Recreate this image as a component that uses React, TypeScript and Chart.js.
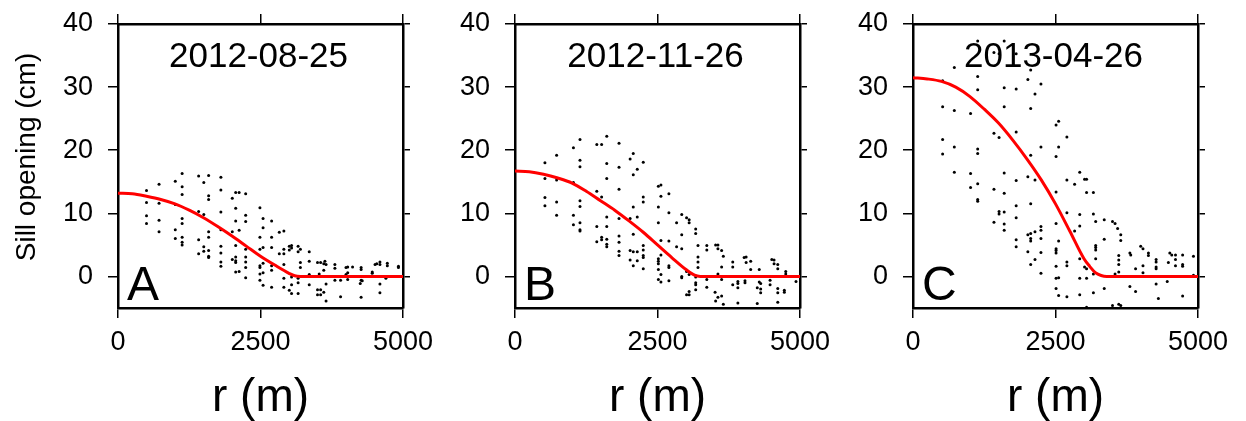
import { useEffect, useRef } from "react";
import { Chart, registerables } from "chart.js";

Chart.register(...registerables);

type Pt = [number, number];

const FONT = "'Liberation Sans', Arial, Helvetica, sans-serif";

const xTicks = [0, 2500, 5000];
const yTicks = [0, 10, 20, 30, 40];
const xRange = [0, 5000];
const yRange = [-5, 40];
const panelTitles = ["2012-08-25", "2012-11-26", "2013-04-26"];
const panelLetters = ["A", "B", "C"];
const yAxisTitle = "Sill opening (cm)";
const xAxisTitle = "r (m)";

// Fitted model curves (r in m, opening in cm)
const curveA_r = [0, 250, 500, 750, 1000, 1250, 1500, 1750, 2000, 2250, 2500, 2750, 3000, 3100, 3200, 5000];
const curveA_v = [13.2, 13.1, 12.7, 12.2, 11.5, 10.5, 9.3, 7.9, 6.4, 4.8, 3.2, 1.8, 0.5, 0.1, 0, 0];
const curveB_r = [0, 250, 500, 750, 1000, 1250, 1500, 1750, 2000, 2250, 2500, 2750, 3000, 3150, 3250, 5000];
const curveB_v = [16.7, 16.6, 16.2, 15.6, 14.8, 13.5, 12.0, 10.5, 8.8, 7.0, 5.0, 3.0, 1.1, 0.2, 0, 0];
const curveC_r = [0, 250, 500, 750, 1000, 1250, 1500, 1750, 2000, 2250, 2500, 2750, 3000, 3100, 3200, 3300, 3400, 5000];
const curveC_v = [31.5, 31.3, 30.9, 30.0, 28.5, 26.5, 24.3, 21.6, 18.6, 15.3, 11.5, 7.2, 2.8, 1.6, 0.6, 0.15, 0, 0];

// Observed openings [r, value]
const dotsA: Pt[] = [
  [500, 13.6], [500, 11.7], [500, 9.6], [500, 8.4],
  [720, 14.6], [720, 11.6], [720, 8.9], [720, 7.1],
  [1005, 15.1], [1005, 11.4], [1005, 7.4], [1005, 6.0],
  [1125, 16.3], [1125, 14.2], [1125, 13.0], [1125, 9.2], [1125, 8.4], [1125, 6.2], [1125, 5.4], [1125, 5.0],
  [1415, 15.9], [1415, 10.3], [1415, 5.8], [1415, 3.6],
  [1505, 14.9], [1505, 9.8], [1505, 4.7], [1505, 4.0],
  [1590, 16.0], [1590, 12.8], [1590, 12.2], [1590, 7.1], [1590, 6.2], [1590, 4.1], [1590, 3.2], [1590, 3.0],
  [1805, 15.7], [1805, 13.7], [1805, 10.2], [1805, 7.4], [1805, 4.8], [1805, 3.7], [1805, 2.3], [1805, 1.6],
  [2005, 12.4], [2005, 7.1], [2005, 2.7],
  [2065, 13.3], [2065, 10.8], [2065, 8.8], [2065, 4.9], [2065, 3.1], [2065, 2.5], [2065, 2.2], [2065, 0.7],
  [2125, 13.3], [2125, 7.3], [2125, 0.8],
  [2240, 13.1], [2240, 9.7], [2240, 8.7], [2240, 4.3], [2240, 3.1], [2240, 2.3], [2240, 1.4], [2240, -0.2],
  [2490, 10.9], [2490, 6.2], [2490, 4.3], [2490, 1.7], [2490, 1.4], [2490, 0.4], [2490, -0.6],
  [2545, 9.2], [2545, 7.7], [2545, 4.6], [2545, 2.1], [2545, 0.6], [2545, -1.4],
  [2695, 8.8], [2695, 6.2], [2695, 4.6], [2695, 1.7], [2695, 1.0], [2695, -1.7],
  [2830, 7.0], [2830, 3.6],
  [2910, 7.2], [2910, 4.3], [2910, 3.6], [2910, 1.9], [2910, -0.3], [2910, -1.7],
  [3005, 4.8], [3005, 4.2], [3005, -2.2],
  [3045, 4.9], [3045, 4.5], [3045, -0.1], [3045, -1.3], [3045, -2.7],
  [3160, 4.8], [3160, 3.9], [3160, -0.3], [3160, -1.0], [3160, -2.7],
  [3200, 4.3], [3200, 2.2], [3200, 1.4],
  [3355, 3.9], [3355, 2.4], [3355, 0.3], [3355, -1.3],
  [3500, 2.2], [3500, -2.1], [3500, -2.9],
  [3555, 2.2], [3555, -2.1], [3555, -2.9], [3530, 0.4],
  [3610, 2.0], [3610, 1.0], [3610, -2.5],
  [3630, 2.4],
  [3650, 1.9], [3650, -1.2], [3650, -3.9],
  [3805, 1.9], [3805, 1.3], [3805, -0.6],
  [3905, -0.6], [3905, -3.2],
  [4000, 1.4], [4000, 0.3],
  [4030, 1.5], [4030, 0.6], [4030, -0.5],
  [4115, 1.5],
  [4265, 1.4], [4265, 1.1], [4265, -0.6], [4265, -3.3],
  [4250, -1.1], [4285, -0.7],
  [4460, 0.7], [4460, 0.5],
  [4510, 1.9], [4540, 2.0],
  [4595, 2.3], [4595, 1.9], [4595, -1.2], [4595, -2.6],
  [4725, 2.1], [4725, 1.7], [4700, -0.3],
  [4920, 1.6], [4920, 1.4],
];

const dotsB: Pt[] = [
  [525, 18.0], [525, 15.5], [525, 12.5], [525, 11.2],
  [730, 19.2], [730, 15.3], [730, 11.8], [730, 9.7],
  [1025, 20.4], [1025, 14.9], [1025, 9.7], [1025, 8.2],
  [1140, 21.7], [1140, 18.4], [1140, 17.4], [1140, 12.0], [1140, 11.1], [1140, 8.5], [1140, 7.4], [1140, 7.2],
  [1435, 20.9], [1435, 13.5], [1435, 7.9], [1435, 5.5],
  [1520, 20.9], [1520, 12.6], [1520, 6.2], [1520, 5.8],
  [1610, 22.2], [1610, 17.9], [1610, 15.5], [1610, 9.4], [1610, 7.9], [1610, 5.9], [1610, 5.1], [1610, 4.7],
  [1825, 21.1], [1825, 17.3], [1825, 13.8], [1825, 9.2], [1825, 6.4], [1825, 5.4], [1825, 4.0], [1825, 3.3],
  [2020, 18.6], [2020, 9.2], [2020, 4.1], [2020, 2.6],
  [2075, 19.5], [2075, 16.1], [2075, 11.0], [2075, 6.7], [2075, 3.9], [2075, 1.7],
  [2145, 17.0], [2145, 9.4], [2145, 3.9], [2145, 2.5],
  [2250, 18.1], [2250, 12.6], [2250, 11.8], [2250, 4.9], [2250, 4.2], [2250, 3.3], [2250, 3.0], [2250, 1.2],
  [2515, 14.3], [2515, 11.0], [2515, 8.5], [2515, 2.8], [2515, 2.4], [2515, 2.0], [2515, 1.1], [2515, -0.5],
  [2560, 14.5], [2560, 12.7], [2560, 5.7], [2560, 3.4], [2560, 0.3], [2560, -0.9],
  [2700, 13.1], [2700, 10.1], [2700, 5.6], [2700, 1.7], [2700, 1.4], [2700, -0.7],
  [2835, 8.5], [2835, 4.7],
  [2925, 9.8], [2925, 6.6], [2925, 4.4], [2925, 0.0], [2925, -0.2],
  [3010, 9.3], [3010, 0.8], [3010, -2.9],
  [3055, 9.0], [3055, 8.5], [3055, 0.3], [3055, -2.4], [3055, -2.9],
  [3170, 7.5], [3170, 6.8], [3170, -0.1], [3170, -1.0], [3170, -1.3], [3170, -2.1],
  [3210, 4.9], [3210, 3.1], [3210, 2.3], [3210, 1.4],
  [3365, 4.9], [3365, 4.2], [3365, -0.5], [3365, -1.7],
  [3510, -2.5], [3520, 5.0], [3520, -3.9],
  [3560, 5.0], [3560, 4.4], [3560, 0.4], [3560, -3.3],
  [3625, 4.1], [3625, 1.5], [3625, -0.5], [3625, -3.1],
  [3655, 3.2], [3655, -4.4],
  [3820, 2.3], [3820, 1.5], [3820, -1.3],
  [3910, -0.8], [3910, -1.1], [3910, -1.8], [3910, -4.2],
  [4020, 3.0], [4035, -0.7], [4035, -1.0],
  [4055, 3.1], [4055, 2.2],
  [4135, 2.4], [4135, 1.1],
  [4250, -1.8], [4250, -4.3],
  [4285, 1.1], [4285, -0.9],
  [4310, -1.1], [4310, -2.0], [4310, -2.6],
  [4475, -0.6], [4475, -1.3],
  [4505, 2.7], [4545, 2.6], [4545, 2.0],
  [4610, 1.9], [4610, 1.2], [4610, -1.9], [4610, -2.6], [4610, -4.1],
  [4725, -2.2], [4725, -2.5],
  [4750, 0.8], [4750, 0.4],
  [4930, -0.8],
];

const dotsC: Pt[] = [
  [520, 31.0], [520, 26.9], [520, 21.7], [520, 19.4],
  [725, 33.1], [725, 26.3], [725, 20.5], [725, 16.5],
  [1010, 25.8], [1010, 16.3], [1010, 14.1],
  [1135, 37.3], [1135, 31.7], [1135, 29.6], [1135, 20.2], [1135, 19.5], [1135, 14.7], [1135, 12.2], [1135, 11.9],
  [1420, 35.5], [1420, 22.7], [1420, 13.8], [1420, 8.6],
  [1510, 35.3], [1510, 22.0], [1510, 10.3], [1510, 9.9],
  [1600, 37.3], [1600, 29.9], [1600, 26.9], [1600, 16.4], [1600, 13.2], [1600, 10.2], [1600, 8.3], [1600, 7.3],
  [1810, 35.3], [1810, 29.7], [1810, 22.9], [1810, 15.2], [1810, 11.2], [1810, 9.3], [1810, 5.8], [1810, 4.7],
  [2015, 31.2], [2015, 15.8], [2015, 6.6], [2015, 3.9],
  [2065, 32.7], [2065, 26.6], [2065, 19.2], [2065, 11.5], [2065, 6.8], [2065, 6.0], [2065, 5.6], [2065, 1.9],
  [2140, 28.9], [2140, 15.3], [2140, 7.1], [2140, 2.7],
  [2245, 30.5], [2245, 20.5], [2245, 7.9], [2245, 7.3], [2245, 6.0], [2245, 3.8], [2245, 0.5],
  [2510, 24.0], [2510, 19.0], [2510, 13.4], [2510, 8.4], [2510, 4.4], [2510, 4.1], [2510, 3.7], [2510, 1.6], [2510, -0.3], [2510, -1.9],
  [2555, 24.6], [2555, 20.5], [2555, 5.6], [2555, -0.2], [2555, -3.0],
  [2700, 22.1], [2700, 15.3], [2700, 10.1], [2700, 2.3], [2700, 1.7], [2700, -3.2],
  [2835, 14.6], [2835, 7.2],
  [2925, 16.5], [2925, 9.8], [2925, 8.0], [2925, 2.8], [2925, -0.3], [2925, -2.9],
  [3010, 15.4], [3010, 1.5],
  [3045, 15.4], [3045, 13.3], [3045, 1.2], [3045, -0.3], [3045, -4.9],
  [3165, 13.3], [3165, 9.9], [3165, 0.4], [3165, -2.6],
  [3205, 8.7], [3205, 4.9], [3205, 4.6], [3205, 4.2], [3205, 2.8],
  [3355, 9.0], [3355, 5.9], [3355, -1.9],
  [3500, 8.7], [3500, -4.6],
  [3545, 8.4], [3545, 0.4],
  [3590, 7.6],
  [3610, 3.3], [3610, 2.6], [3610, 1.9], [3610, 0.7], [3610, -4.4],
  [3645, 6.6], [3645, 5.7], [3645, -4.6],
  [3805, 3.7], [3805, -1.6], [3820, 3.4],
  [3905, 1.2], [3905, -2.4],
  [3995, 4.8],
  [4035, 4.4], [4035, 1.7], [4035, 0.6],
  [4130, 3.7], [4130, 3.3],
  [4265, 2.7], [4265, 2.3], [4265, 1.5], [4265, 1.2], [4265, -1.2],
  [4305, -3.5],
  [4460, -0.8], [4480, 2.2],
  [4505, 3.7], [4540, 3.4],
  [4605, 3.4], [4605, 2.7], [4605, 1.7],
  [4730, 3.4], [4730, 1.9], [4730, 1.6], [4730, -3.1],
  [4920, 3.2], [4920, 0.2],
];

const curves: [number[], number[]][] = [
  [curveA_r, curveA_v],
  [curveB_r, curveB_v],
  [curveC_r, curveC_v],
];
const dots: Pt[][] = [dotsA, dotsB, dotsC];

// layout: canvas position + plot area edges (page px)
const PANELS = [
  { canvasLeft: 0, canvasWidth: 440, areaLeft: 118, areaRight: 403 },
  { canvasLeft: 430, canvasWidth: 440, areaLeft: 515, areaRight: 800 },
  { canvasLeft: 830, canvasWidth: 416, areaLeft: 913, areaRight: 1198 },
];
const H = 421;
const AREA_TOP = 24;
const AREA_BOTTOM = 308;

function Panel({ idx }: { idx: number }) {
  const ref = useRef<HTMLCanvasElement | null>(null);
  const p = PANELS[idx];
  useEffect(() => {
    if (!ref.current) return;
    const [cr, cv] = curves[idx];
    const setTicks = (vals: number[]) => (s: any) => {
      s.ticks = vals.map((v) => ({ value: v }));
    };
    const noPad = (s: any) => {
      s.paddingTop = 0;
      s.paddingBottom = 0;
      s.paddingLeft = 0;
      s.paddingRight = 0;
    };
    const gridCommon = { drawOnChartArea: false, drawTicks: true, color: "#000", lineWidth: 1.5 };
    const borderCommon = { display: true, color: "#000", width: 2.5 };
    const tickFont = { family: FONT, size: 27 };
    const textPlugin = {
      id: "panelText" + idx,
      afterDraw(chart: any) {
        const ctx = chart.ctx;
        const a = chart.chartArea;
        ctx.save();
        ctx.fillStyle = "#000";
        ctx.textAlign = "center";
        ctx.textBaseline = "alphabetic";
        ctx.font = `35px ${FONT}`;
        ctx.fillText(panelTitles[idx], (a.left + a.right) / 2 - 2, 67);
        ctx.textAlign = "left";
        ctx.font = `48px ${FONT}`;
        ctx.fillText(panelLetters[idx], a.left + 9, 300);
        if (idx === 0) {
          ctx.translate(27, 157);
          ctx.rotate(-Math.PI / 2);
          ctx.textAlign = "center";
          ctx.textBaseline = "middle";
          ctx.font = `28px ${FONT}`;
          ctx.fillText(yAxisTitle, 0, 0);
        }
        ctx.restore();
      },
    };
    const chart = new Chart(ref.current, {
      type: "scatter",
      data: {
        datasets: [
          {
            type: "line",
            data: cr.map((r, i) => ({ x: r, y: cv[i] })),
            borderColor: "#ff0000",
            borderWidth: 3,
            pointRadius: 0,
            fill: false,
            tension: 0.4,
            cubicInterpolationMode: "monotone",
          } as any,
          {
            type: "scatter",
            data: dots[idx].map(([r, v]) => ({ x: r, y: v })),
            pointRadius: 1.5,
            pointBackgroundColor: "#000",
            pointBorderWidth: 0,
            borderWidth: 0,
          } as any,
        ],
      },
      options: {
        responsive: false,
        animation: false,
        events: [],
        layout: { padding: 0 },
        plugins: { legend: { display: false }, tooltip: { enabled: false } },
        scales: {
          x: {
            type: "linear",
            position: "bottom",
            min: xRange[0],
            max: xRange[1],
            afterBuildTicks: setTicks(xTicks),
            afterFit: (s: any) => {
              s.height = H - AREA_BOTTOM;
              noPad(s);
            },
            ticks: {
              color: "#000",
              font: tickFont,
              padding: 8,
              maxRotation: 0,
              autoSkip: false,
              callback: (v: any) => String(v),
            },
            grid: { ...gridCommon, tickLength: 10 },
            border: borderCommon,
            title: {
              display: true,
              text: xAxisTitle,
              color: "#000",
              font: { family: FONT, size: 46, lineHeight: 1 },
              padding: 0,
            },
          },
          x2: {
            type: "linear",
            position: "top",
            min: xRange[0],
            max: xRange[1],
            afterBuildTicks: setTicks(xTicks),
            afterFit: (s: any) => {
              s.height = AREA_TOP;
              noPad(s);
            },
            ticks: { display: false },
            grid: { ...gridCommon, tickLength: 10 },
            border: borderCommon,
          },
          y: {
            type: "linear",
            position: "left",
            min: yRange[0],
            max: yRange[1],
            afterBuildTicks: setTicks(yTicks),
            afterFit: (s: any) => {
              s.width = p.areaLeft - p.canvasLeft;
              noPad(s);
            },
            ticks: { color: "#000", font: tickFont, padding: 15, callback: (v: any) => String(v) },
            grid: { ...gridCommon, tickLength: 10 },
            border: borderCommon,
          },
          y2: {
            type: "linear",
            position: "right",
            min: yRange[0],
            max: yRange[1],
            afterBuildTicks: setTicks(yTicks),
            afterFit: (s: any) => {
              s.width = p.canvasLeft + p.canvasWidth - p.areaRight;
              noPad(s);
            },
            ticks: { display: false },
            grid: { ...gridCommon, tickLength: 7 },
            border: borderCommon,
          },
        },
      } as any,
      plugins: [textPlugin],
    });
    return () => chart.destroy();
  }, [idx]);
  return (
    <canvas
      ref={ref}
      width={p.canvasWidth}
      height={H}
      style={{ position: "absolute", left: p.canvasLeft, top: 0, width: p.canvasWidth, height: H }}
    />
  );
}

export default function App() {
  return (
    <div
      style={{
        position: "fixed",
        left: 0,
        top: 0,
        width: 1246,
        height: H,
        background: "#fff",
        overflow: "hidden",
      }}
    >
      {PANELS.map((_, i) => (
        <Panel key={i} idx={i} />
      ))}
    </div>
  );
}
